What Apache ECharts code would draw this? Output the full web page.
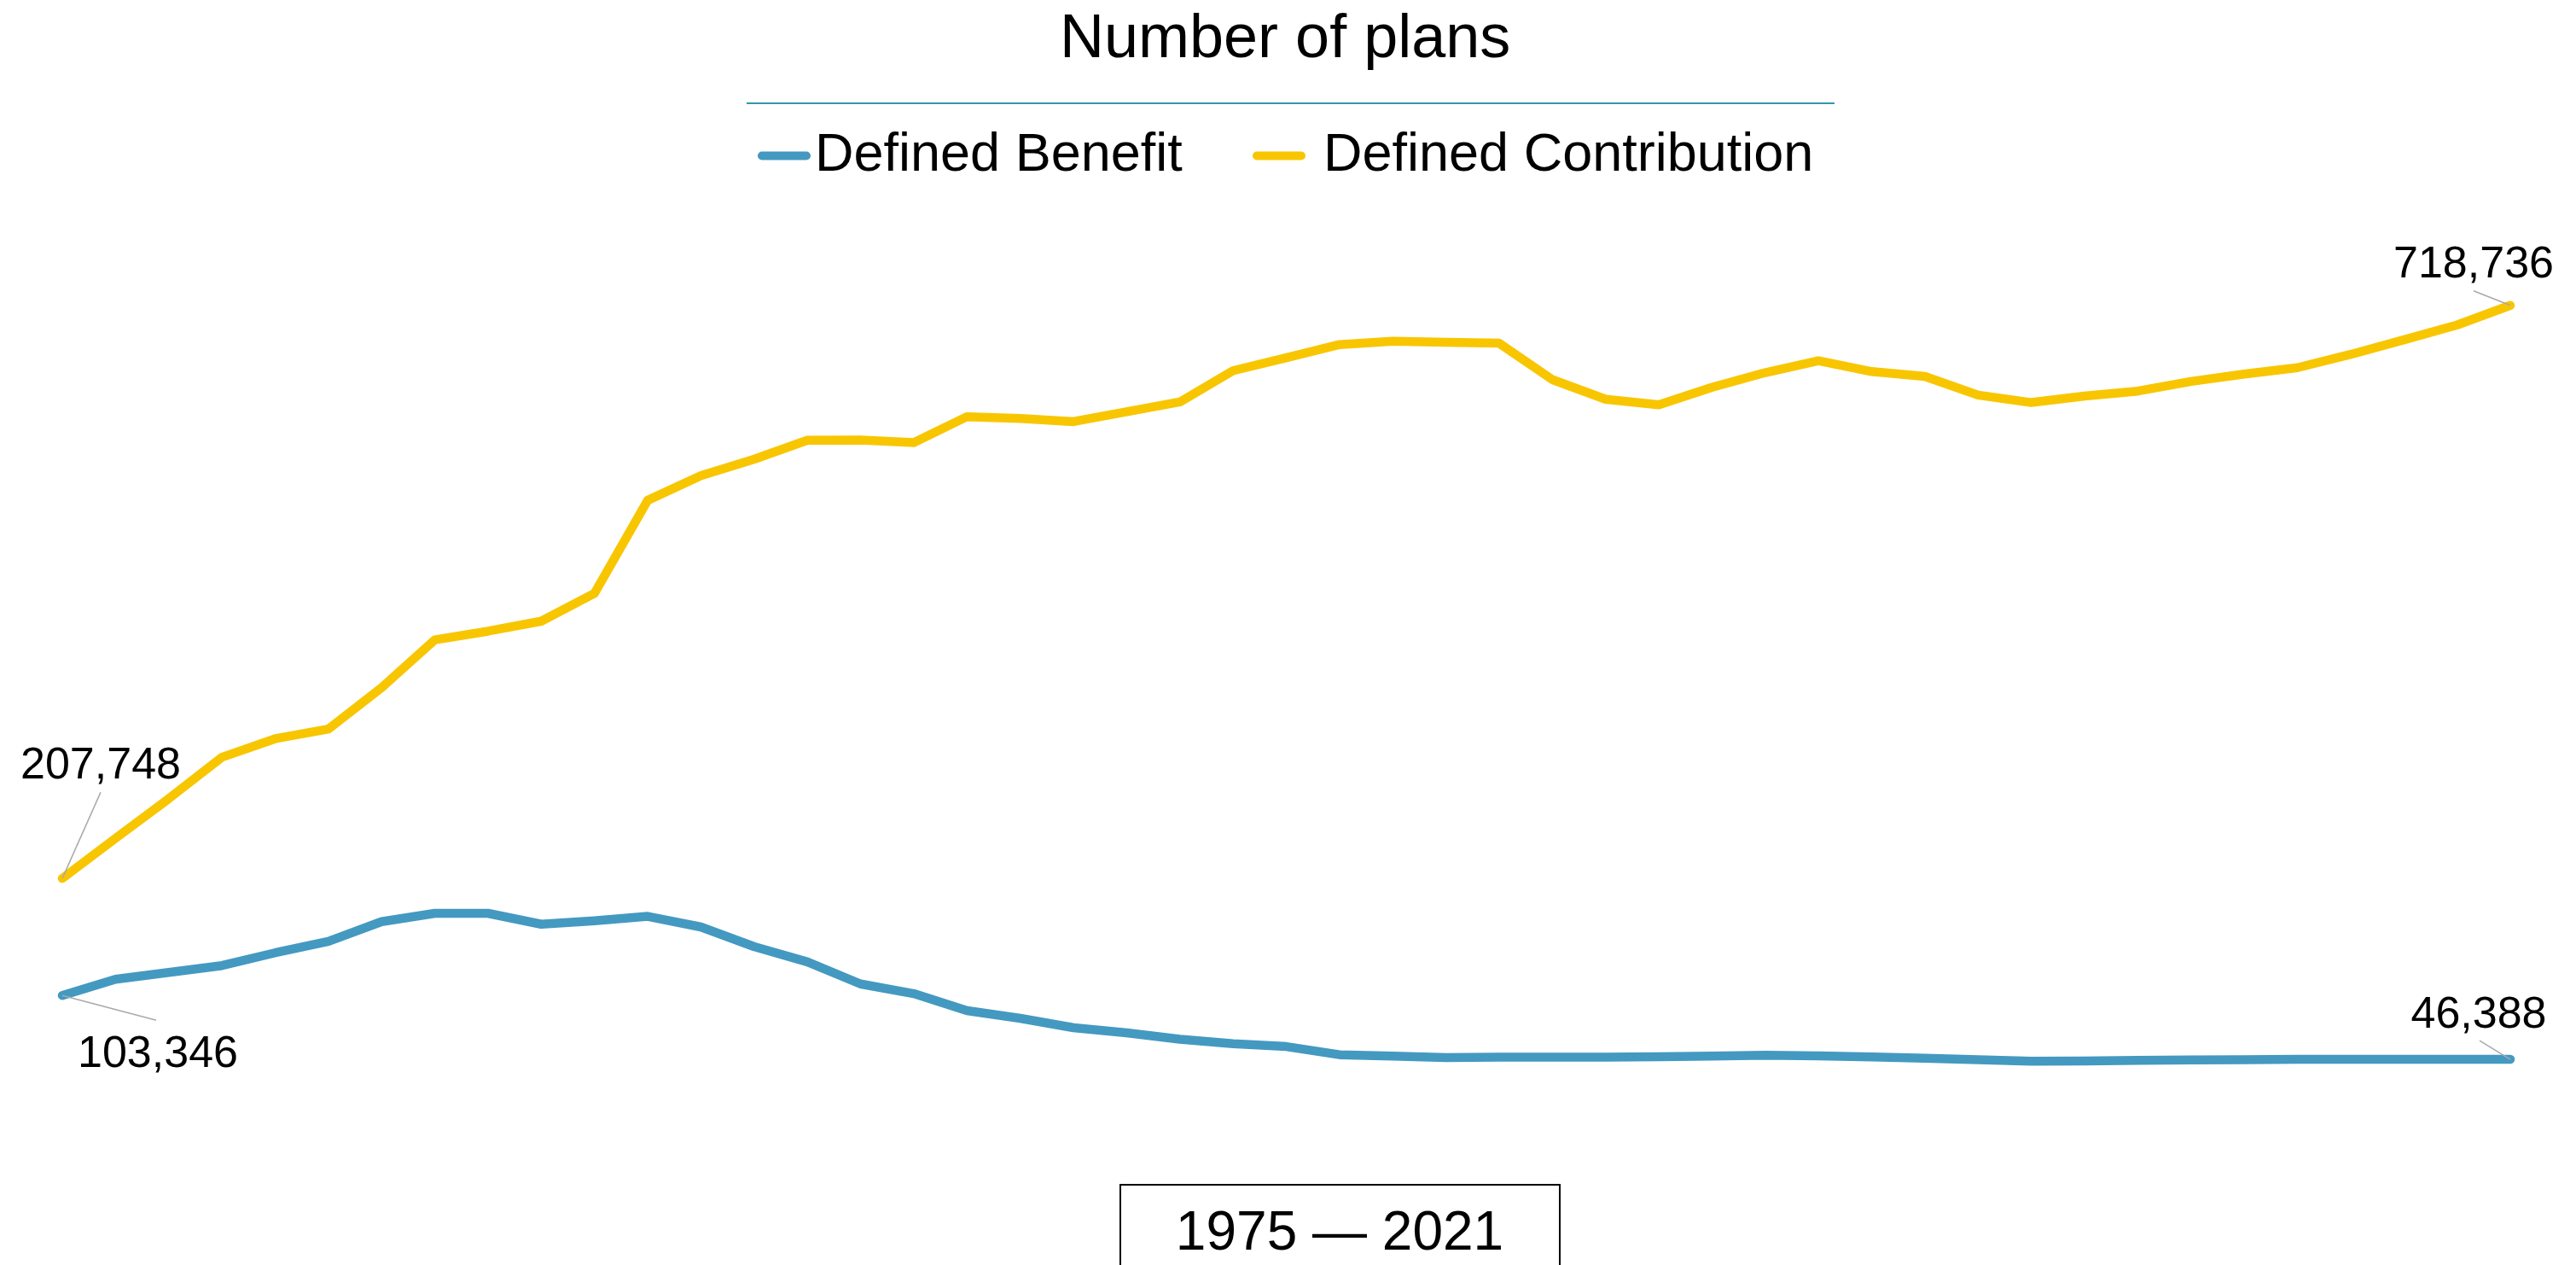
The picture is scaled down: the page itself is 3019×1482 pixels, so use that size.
<!DOCTYPE html>
<html>
<head>
<meta charset="utf-8">
<title>Number of plans</title>
<script src="https://cdn.jsdelivr.net/npm/echarts@6/dist/echarts.min.js"></script>
<style>
  html, body { margin: 0; padding: 0; background: #ffffff; }
  #chart { width: 3019px; height: 1482px; }
</style>
</head>
<body>
<div id="chart"></div>
<script>
// Plan years shown on the (hidden) category axis
const years = [
  '1975', '1976', '1977', '1978', '1979', '1980', '1981', '1982', '1983', '1984',
  '1985', '1986', '1987', '1988', '1989', '1990', '1991', '1992', '1993', '1994',
  '1995', '1996', '1997', '1998', '1999', '2000', '2001', '2002', '2003', '2004',
  '2005', '2006', '2007', '2008', '2009', '2010', '2011', '2012', '2013', '2014',
  '2015', '2016', '2017', '2018', '2019', '2020', '2021'
];

// Number of defined benefit plans per year
const dbPlans = [
  103346, 117800, 123900, 130000, 141400, 151600, 169200, 176600, 176600, 166900,
  170000, 173900, 164400, 146900, 133300, 113600, 105000, 89800, 83000, 74600,
  70000, 64300, 60300, 57800, 50500, 49200, 47900, 48300, 48300, 48300,
  48700, 49300, 50000, 49400, 48500, 47400, 46000, 44700, 45000, 45400,
  45800, 46100, 46400, 46500, 46500, 46500, 46388
];

// Number of defined contribution plans per year
const dcPlans = [
  207748, 243500, 278800, 315800, 332300, 340900, 377800, 420500, 428200, 437100,
  461900, 544900, 566900, 581500, 598500, 598700, 596400, 619500, 617800, 615100,
  623900, 632600, 660500, 672000, 683800, 686800, 685900, 685000, 652500, 635000,
  630000, 645700, 658800, 669300, 659700, 655400, 638700, 632100, 637900, 642300,
  650900, 657500, 663200, 675000, 688000, 701200, 718736
];

const seriesNames = ['Defined Benefit', 'Defined Contribution'];
const seriesColors = ['#4499c1', '#f8c600'];
const FONT = '"Liberation Sans", Arial, Helvetica, sans-serif';

// First and last value of each series get a callout
const last = years.length - 1;
const callouts = [
  [0, dcPlans[0]],
  [last, dcPlans[last]],
  [0, dbPlans[0]],
  [last, dbPlans[last]]
];
// Label centre and leader-line end, relative to the point
const calloutOffsets = [
  { tx: 45, ty: -131, lx: 45, ly: -101 },
  { tx: -43, ty: -47, lx: -43, ly: -17 },
  { tx: 112, ty: 69, lx: 110, ly: 29 },
  { tx: -37, ty: -51, lx: -36, ly: -22 }
];

const fmt = v => Number(v).toLocaleString('en-US');
const capsule = 'path://M5,0L57,0A5,5,0,0,1,57,10L5,10A5,5,0,0,1,5,0Z';

const chart = echarts.init(document.getElementById('chart'), null, { renderer: 'canvas' });

function legendFor(name, left, extraPad) {
  return {
    data: [name],
    left: left,
    top: 151,
    padding: 0,
    itemWidth: 62,
    itemHeight: 10,
    icon: capsule,
    selectedMode: false,
    textStyle: {
      fontSize: 63,
      fontFamily: FONT,
      color: '#000000',
      padding: [0, 0, 6, extraPad]
    }
  };
}

chart.setOption({
  animation: false,
  backgroundColor: '#ffffff',
  textStyle: { fontFamily: FONT },
  title: {
    text: 'Number of plans',
    left: 1242,
    top: 11,
    padding: 0,
    textStyle: { fontSize: 72, fontWeight: 'normal', fontFamily: FONT, color: '#000000' }
  },
  legend: [
    legendFor(seriesNames[0], 888, 0),
    legendFor(seriesNames[1], 1468, 16)
  ],
  grid: { left: 73, right: 77, top: 251, bottom: 180 },
  xAxis: {
    type: 'category',
    data: years,
    boundaryGap: false,
    show: false
  },
  yAxis: {
    type: 'value',
    min: 0,
    max: 800000,
    show: false,
    splitLine: { show: false }
  },
  graphic: [
    {
      type: 'line',
      shape: { x1: 875, y1: 121, x2: 2150, y2: 121 },
      style: { stroke: '#3596ab', lineWidth: 2 }
    },
    {
      type: 'rect',
      shape: { x: 1313, y: 1388, width: 515, height: 160 },
      style: { fill: 'none', stroke: '#000000', lineWidth: 2 }
    },
    {
      type: 'text',
      x: 1570,
      y: 1446,
      style: {
        text: years[0] + ' \u2014 ' + years[last],
        fontSize: 64,
        fontFamily: FONT,
        fill: '#000000',
        align: 'center',
        verticalAlign: 'middle'
      }
    }
  ],
  series: [
    {
      name: seriesNames[0],
      type: 'line',
      data: dbPlans,
      symbol: 'none',
      showSymbol: false,
      z: 2,
      itemStyle: { color: seriesColors[0] },
      lineStyle: { width: 10.5, color: seriesColors[0], cap: 'round', join: 'round' },
      emphasis: { disabled: true }
    },
    {
      name: seriesNames[1],
      type: 'line',
      data: dcPlans,
      symbol: 'none',
      showSymbol: false,
      z: 2,
      itemStyle: { color: seriesColors[1] },
      lineStyle: { width: 10.5, color: seriesColors[1], cap: 'round', join: 'round' },
      emphasis: { disabled: true }
    },
    {
      name: 'callouts',
      type: 'custom',
      coordinateSystem: 'cartesian2d',
      data: callouts,
      clip: false,
      z: 5,
      silent: true,
      renderItem: function (params, api) {
        const p = api.coord([api.value(0), api.value(1)]);
        const o = calloutOffsets[params.dataIndex];
        return {
          type: 'group',
          children: [
            {
              type: 'line',
              shape: { x1: p[0], y1: p[1], x2: p[0] + o.lx, y2: p[1] + o.ly },
              style: { stroke: '#a9a9a9', lineWidth: 1.5 }
            },
            {
              type: 'text',
              x: p[0] + o.tx,
              y: p[1] + o.ty,
              style: {
                text: fmt(api.value(1)),
                fontSize: 52,
                fontFamily: FONT,
                fill: '#000000',
                align: 'center',
                verticalAlign: 'middle'
              }
            }
          ]
        };
      }
    }
  ]
});
</script>
</body>
</html>
